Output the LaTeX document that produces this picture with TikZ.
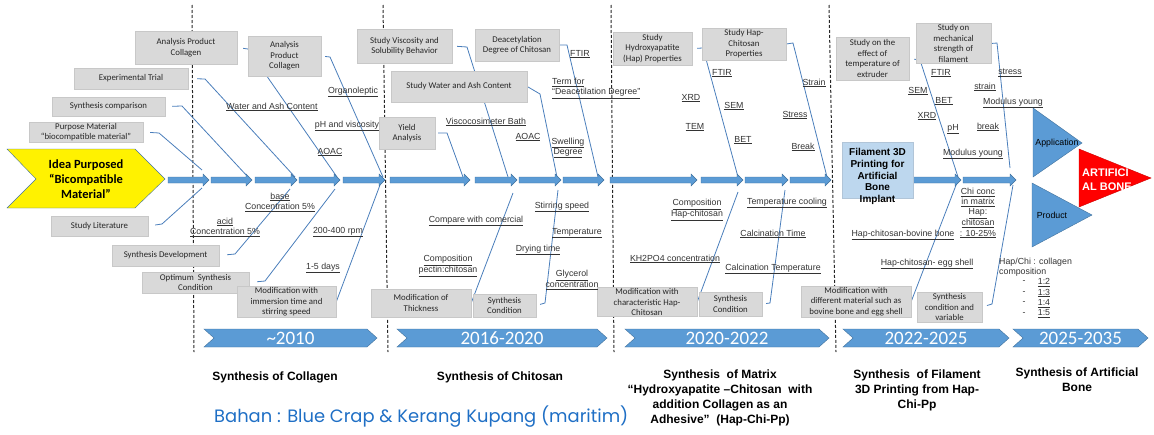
\documentclass[tikz,border=0pt]{standalone}
\usepackage{fontspec}
\setmainfont{Liberation Sans}
\newfontfamily\carl{Carlito}
\newfontfamily\pop{Poppins}
\usetikzlibrary{backgrounds}

\definecolor{boxgray}{HTML}{D9D9D9}
\definecolor{boxline}{HTML}{C8C8C8}
\definecolor{bonecol}{HTML}{4A7EBB}
\definecolor{arrfill}{HTML}{5B9BD5}
\definecolor{arrline}{HTML}{41719C}
\definecolor{lightbl}{HTML}{BDD7EE}
\definecolor{bahanbl}{HTML}{1F6FC5}

\tikzset{
  box/.style 2 args={draw=boxline, fill=boxgray, text=black!85, font=\carl\fontsize{8.8}{10.5}\selectfont,
    align=center, inner sep=1pt, minimum width=#1pt, minimum height=#2pt},
  lbl/.style={font=\fontsize{8.8}{10.2}\selectfont, text=black!80, align=center, inner sep=0pt},
  bone/.style={draw=bonecol, line width=0.8pt},
  spinearr/.style={fill=arrfill, draw=arrline, line width=0.4pt},
  ttl/.style={font=\bfseries\fontsize{12}{15}\selectfont, align=center, inner sep=0pt},
  yr/.style={font=\carl\fontsize{19}{19}\selectfont, text=white},
  era/.style={draw=black!85, line width=1pt, dash pattern=on 3pt off 2pt},
}

\begin{document}
\begin{tikzpicture}[x=1pt, y=-1pt]
\useasboundingbox (0,0) rectangle (1154,434);

% head of the fishbone
\draw[fill=yellow, draw=arrline] (7,149) -- (135,149) -- (165,179) -- (135,208) -- (7,208) -- (36,179) -- cycle;
\node[font=\carl\bfseries\fontsize{12.5}{15}\selectfont, align=center] (idea) at (86,179) {Idea Purposed\\“Bicompatible\\Material”};

% spine
\foreach \a/\b in {168/209,211/252,255/297,299/340,343/385,390/470,475/517,519/561,563/604,610/697,701/743,745/788,790/831,913/961,963/1016}
  \draw[spinearr] (\a,177) -- (\b-6,177) -- (\b-6,174) -- (\b,180) -- (\b-6,186) -- (\b-6,183) -- (\a,183) -- cycle;

% boxes, collagen
\node[box={102}{33}] (apc1) at (186,47.5) {Analysis Product\\Collagen};
\node[box={114}{21}] (exptr) at (131,78.5) {Experimental Trial};
\node[box={113}{19}] (syncmp) at (108.5,106.5) {Synthesis comparison};
\node[box={114}{20}] (purp) at (86,132) {Purpose Material\\“biocompatible material”};
\node[box={73}{40}] (apc2) at (284.5,56) {Analysis\\Product\\Collagen};
\node[box={97}{20}] (stlit) at (99.5,226) {Study Literature};
\node[box={107}{21}] (syndev) at (165.5,255.5) {Synthesis Development};
\node[box={107}{21}] (optsc) at (195.5,282.5) {Optimum~ Synthesis\\Condition};
\node[box={99}{30}] (modimm) at (286.5,302) {Modification with\\immersion time and\\stirring speed};

% boxes, chitosan
\node[box={95}{34}] (svsb) at (404.5,46) {Study Viscosity and\\Solubility Behavior};
\node[box={84}{32}] (ddc) at (517,45) {Deacetylation\\Degree of Chitosan};
\node[box={136}{31}] (swac) at (459,86.5) {Study Water and Ash Content};
\node[box={56}{32}] (yield) at (407,133) {Yield\\Analysis};
\node[box={100}{28}] (modthk) at (421,303) {Modification of\\Thickness};
\node[box={63}{23}] (syncon1) at (504.5,305.5) {Synthesis\\Condition};

% boxes, matrix
\node[box={79}{33}] (shap) at (652.5,48.5) {Study\\Hydroxyapatite\\(Hap) Properties};
\node[box={84}{32}] (shc) at (744,44) {Study Hap-\\Chitosan\\Properties};
\node[box={100}{28}] (modchar) at (647,302) {Modification with\\characteristic Hap-\\Chitosan};
\node[box={63}{24}] (syncon2) at (730.5,304) {Synthesis\\Condition};

% boxes, filament
\node[box={73}{43}] (seft) at (872.5,58.5) {Study on the\\effect of\\temperature of\\extruder};
\node[box={75}{39}] (smech) at (953.5,43.5) {Study on\\mechanical\\strength of\\filament};
\node[box={110}{31}] (moddiff) at (856,301.5) {Modification with\\different material such as\\bovine bone and egg shell};
\node[box={65}{30}] (syncv) at (949.5,307) {Synthesis\\condition and\\variable};
\node[draw=lightbl!80!gray, fill=lightbl, minimum width=71pt, minimum height=56pt] (fil) at (877.5,170) {};
\node[font=\bfseries\fontsize{10}{11.7}\selectfont, align=center] (filtxt) at (877.5,176.5) {Filament 3D\\Printing for\\Artificial\\Bone\\Implant};

\begin{scope}[on background layer]
% era borders
\draw[era] (192,5) -- (194,352);
\draw[era] (383,5) -- (388,352);
\draw[era] (611,5) -- (614,352);
\draw[era] (829,5) -- (836,352);
% bones
\draw[bone, shorten <=6pt] (apc1.east) -- (248,49) -- (337,177);
\draw[bone, shorten <=4pt] (apc2.east) -- (330,57) -- (383,177);
\draw[bone, shorten <=9pt] (exptr.east) -- (205,79) -- (295,177);
\draw[bone, shorten <=7pt] (syncmp.east) -- (182,106) -- (248,177);
\draw[bone, shorten <=7pt] (purp.east) -- (159,133) -- (202,170);
\draw[bone, shorten <=7pt] (stlit.east) -- (162,224) -- (202,188);
\draw[bone, shorten <=8pt] (syndev.east) -- (235,254) -- (290,189);
\draw[bone, shorten <=8pt] (optsc.east) -- (265,281) -- (335,189);
\draw[bone] (modimm.east) -- (380,185);
\draw[bone, shorten <=5pt] (svsb.east) -- (467,47) -- (508,177);
\draw[bone] (ddc.east) -- (567,45) -- (598,177);
\draw[bone] (swac.east) -- (540,94) -- (557,177);
\draw[bone, shorten <=3pt] (yield.east) -- (447,133) -- (463,177);
\draw[bone] (modthk.east) -- (513,193);
\draw[bone, shorten <=4pt] (syncon1.east) -- (545,303) -- (558,190);
\draw[bone, shorten <=5pt] (shap.east) -- (703,48) -- (738,177);
\draw[bone] (shc.east) -- (793,43) -- (827,177);
\draw[bone] (modchar.east) -- (738,192);
\draw[bone, shorten <=4pt] (syncon2.east) -- (770,303) -- (785,190);
\draw[bone, shorten <=5pt] (seft.east) -- (920,60) -- (958,177);
\draw[bone] (smech.east) -- (997,43) -- (1010,168);
\draw[bone] (moddiff.east) -- (958,180);
\draw[bone, shorten <=5pt] (syncv.east) -- (992,304) -- (1013,185);
\end{scope}

% labels, collagen
\node[lbl] (l1) at (272,107) {\underline{Water and Ash Content}};
\node[lbl] (l2) at (353,92) {\underline{Organoleptic}};
\node[lbl] (l3) at (347,126) {\underline{pH and viscosity}};
\node[lbl] (l4) at (330,152) {\underline{AOAC}};
\node[lbl] (l5) at (280,202) {\underline{base}\\\underline{Concentration 5\%}};
\node[lbl] (l6) at (225,227) {\underline{acid}\\\underline{Concentration 5\%}};
\node[lbl] (l7) at (338,232) {\underline{200-400 rpm}};
\node[lbl] (l8) at (323,268) {\underline{1-5 days}};

% labels, chitosan
\node[lbl] (l9) at (486,122) {\underline{Viscocosimeter Bath}};
\node[lbl] (l10) at (528,137) {\underline{AOAC}};
\node[lbl] (l11) at (568,148) {\underline{Swelling}\\\underline{Degree}};
\node[lbl] (l12) at (580,54) {\underline{FTIR}};
\node[lbl, anchor=west, align=left] (l13) at (552,88.5) {\underline{Term for}\\\underline{“Deacetilation Degree”}};
\node[lbl] (l14) at (476,221) {\underline{Compare with comercial}};
\node[lbl] (l15) at (448,266) {\underline{Composition}\\\underline{pectin:chitosan}};
\node[lbl] (l16) at (562,207) {\underline{Stirring speed}};
\node[lbl] (l17) at (577,233) {\underline{Temperature}};
\node[lbl] (l18) at (538,250) {\underline{Drying time}};
\node[lbl] (l19) at (572,280) {\underline{Glycerol}\\\underline{concentration}};

% labels, matrix
\node[lbl] (l20) at (722,73) {\underline{FTIR}};
\node[lbl] (l21) at (691,98) {\underline{XRD}};
\node[lbl] (l22) at (734,106) {\underline{SEM}};
\node[lbl] (l23) at (695,127) {\underline{TEM}};
\node[lbl] (l24) at (743,140) {\underline{BET}};
\node[lbl] (l25) at (814,83) {\underline{Strain}};
\node[lbl] (l26) at (795,115) {\underline{Stress}};
\node[lbl] (l27) at (803,147) {\underline{Break}};
\node[lbl] (l28) at (697,210) {\underline{Composition}\\\underline{Hap-chitosan}};
\node[lbl] (l29) at (787,203) {\underline{Temperature cooling}};
\node[lbl] (l30) at (773,234) {\underline{Calcination Time}};
\node[lbl] (l31) at (675,259) {\underline{KH2PO4 concentration}};
\node[lbl] (l32) at (773,269) {\underline{Calcination Temperature}};

% labels, filament
\node[lbl] (l33) at (941,73) {\underline{FTIR}};
\node[lbl] (l34) at (918,91) {\underline{SEM}};
\node[lbl] (l35) at (944,101) {\underline{BET}};
\node[lbl] (l36) at (927,116) {\underline{XRD}};
\node[lbl] (l37) at (953,129) {\underline{pH}};
\node[lbl] (l38) at (973,154) {\underline{Modulus young}};
\node[lbl] (l39) at (1010,73) {\underline{stress}};
\node[lbl] (l40) at (985,87) {\underline{strain}};
\node[lbl] (l41) at (1013,103) {\underline{Modulus young}};
\node[lbl] (l42) at (988,127) {\underline{break}};
\node[lbl] (l43) at (978,213) {\underline{Chi conc}\\\underline{in matrix}\\\underline{Hap:}\\\underline{chitosan}\\\underline{: 10-25\%}};
\node[lbl] (l44) at (903,235) {\underline{Hap-chitosan-bovine bone}};
\node[lbl] (l45) at (927,264) {\underline{Hap-chitosan- egg shell}};
\node[lbl, anchor=west, align=left] (l46) at (999,267.5) {Hap/Chi : collagen\\composition};
\foreach \r [count=\i] in {1:2,1:3,1:4,1:5} {
  \node[lbl] (dash\i) at (1024,272+10.5*\i) {-};
  \node[lbl] (ratio\i) at (1044,272+10.5*\i) {\underline{\r}};
}

% end triangles
\draw[spinearr] (1033,108) -- (1082,143) -- (1033,177) -- cycle;
\node[lbl, text=black] (app) at (1057,143) {Application};
\draw[spinearr] (1032,183) -- (1092,215) -- (1032,247) -- cycle;
\node[lbl, text=black] (prod) at (1052,215) {Product};
\draw[fill=red, draw=red!80!black, line width=0.4pt] (1079,149) -- (1151,178) -- (1079,207) -- cycle;
\node[font=\bfseries\fontsize{11}{14}\selectfont, text=white, align=left, anchor=west, inner sep=0pt] (bone) at (1082,180) {ARTIFICI\\AL BONE};

% time line
\foreach \a/\b/\t [count=\i] in {204/377/{\textasciitilde2010}, 397/607/2016-2020, 625/829/2020-2022, 843/1009/2022-2025, 1013/1148/2025-2035} {
  \draw[spinearr] (\a,329) -- (\b-10,329) -- (\b,338) -- (\b-10,347) -- (\a,347) -- (\a+10,338) -- cycle;
  \node[yr] (yr\i) at ({(\a+\b)/2},338) {\t};
}

% stage titles
\node[ttl] (t1) at (275,377) {Synthesis of Collagen};
\node[ttl] (t2) at (500,377) {Synthesis of Chitosan};
\node[ttl, anchor=north] (t3) at (720,370) {Synthesis~ of Matrix\\“Hydroxyapatite –Chitosan~ with\\addition Collagen as an\\Adhesive”~ (Hap-Chi-Pp)};
\node[ttl, anchor=north] (t4) at (917,370) {Synthesis~ of Filament\\3D Printing from Hap-\\Chi-Pp};
\node[ttl, anchor=north] (t5) at (1077,368) {Synthesis of Artificial\\Bone};

\node[font=\pop\fontsize{17.9}{20}\selectfont, text=bahanbl, anchor=west, inner sep=0pt] (bahan) at (214,417) {Bahan : Blue Crap \& Kerang Kupang (maritim)};
\end{tikzpicture}
\end{document}
